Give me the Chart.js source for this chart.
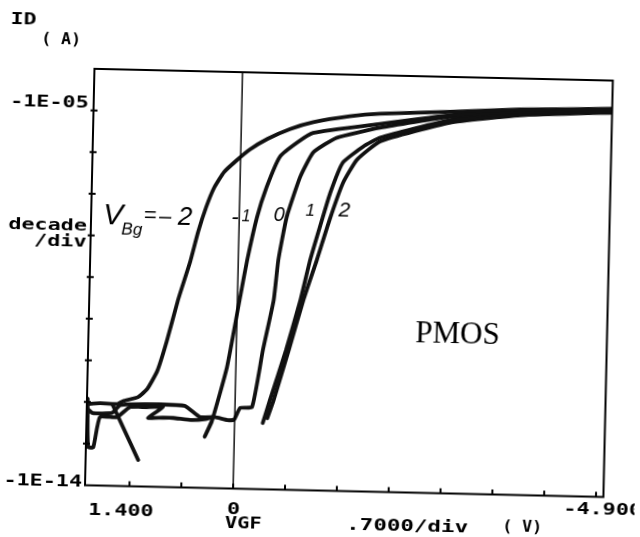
<!DOCTYPE html>
<html><head><meta charset="utf-8">
<script src="https://cdn.jsdelivr.net/npm/chart.js@4/dist/chart.umd.min.js"></script>
<style>
html,body{margin:0;padding:0;background:#fff;}
#wrap{width:640px;height:537px;overflow:hidden;position:relative;background:#fff;}
#c{position:absolute;left:0;top:0;transform:rotate(1.3deg);transform-origin:320px 268px;}
</style></head><body>
<div id="wrap"><canvas id="c" width="640" height="537"></canvas></div>
<script>
// ---- axis ranges and ticks ----
const vgfMin = -5.0, vgfMax = 2.0;
const idMin = 1e-14, idMax = 1e-4;
const xTickValues = [1.4, 0.7, 0, -0.7, -1.4, -2.1, -2.8, -3.5, -4.2, -4.9];
const yTickValues = [1e-13, 1e-12, 1e-11, 1e-10, 1e-9, 1e-8, 1e-7, 1e-6, 1e-5];
const xTickLabels = ['1.400', '0', '-4.900'];
const yTickLabels = ['-1E-05', '-1E-14'];
const vbgLabels = ['-2', '-1', '0', '1', '2'];

// ---- series: VGF (V) and ID (A) for each back-gate bias ----
const vgfM2 = [2.0, 1.82, 1.59, 1.51, 1.31, 1.19, 1.06, 0.94, 0.80, 0.65, 0.55, 0.45, 0.35, 0.22, 0.06, -0.12, -0.36, -0.66, -0.97, -1.46, -1.87, -2.81, -3.76, -5.0];
const idM2  = [8.9e-13, 9.5e-13, 9.3e-13, 1.1e-12, 1.4e-12, 2.2e-12, 6.0e-12, 3.2e-11, 3.2e-10, 2.6e-9, 1.4e-8, 5.5e-8, 1.6e-7, 3.9e-7, 7.4e-7, 1.4e-6, 2.6e-6, 4.6e-6, 6.9e-6, 1.0e-5, 1.2e-5, 1.45e-5, 1.8e-5, 2.1e-5];

const vgfM1 = [1.99, 1.97, 1.90, 1.82, 1.59, 1.42, 1.21, 0.97, 1.17, 0.97, 0.83, 0.58, 0.39, 0.29, 0.40, 0.31, 0.12, -0.03, -0.12, -0.24, -0.36, -0.53, -0.76, -0.97, -1.87, -2.81, -3.76, -5.0];
const idM1  = [1.2e-12, 8.3e-14, 8.3e-14, 4.4e-13, 4.5e-13, 7.9e-13, 8.1e-13, 8.3e-13, 4.5e-13, 4.6e-13, 4.6e-13, 4.2e-13, 4.5e-13, 5.1e-13, 1.7e-13, 3.9e-13, 8.1e-12, 3.4e-10, 3.1e-9, 3.4e-8, 1.8e-7, 9.8e-7, 2.2e-6, 3.8e-6, 6.8e-6, 1.2e-5, 1.6e-5, 2.0e-5];

const vgf0 = [2.0, 1.92, 1.66, 1.55, 1.22, 0.68, 0.47, 0.27, 0.10, 0.01, -0.07, -0.23, -0.36, -0.49, -0.54, -0.64, -0.81, -0.98, -1.29, -1.87, -2.81, -3.76, -5.0];
const id0  = [7.1e-13, 5.5e-13, 5.6e-13, 8.7e-13, 9.5e-13, 9.1e-13, 5.0e-13, 5.1e-13, 4.4e-13, 4.5e-13, 8.7e-13, 9.3e-13, 2.2e-11, 3.5e-10, 3.2e-9, 3.5e-8, 3.3e-7, 1.3e-6, 3.0e-6, 5.5e-6, 1.1e-5, 1.5e-5, 1.9e-5];

const vgfP1 = [1.65, 1.29, null, -0.38, -0.47, -0.67, -0.85, -0.97, -1.09, -1.22, -1.38, -1.65, -1.88, -2.81, -3.76, -5.0];
const idP1  = [8.7e-13, 4.3e-14, null, 3.9e-13, 1.4e-12, 2.2e-11, 3.6e-10, 3.4e-9, 2.1e-8, 1.4e-7, 7.6e-7, 1.9e-6, 3.2e-6, 9.1e-6, 1.4e-5, 1.8e-5];

const vgfP2 = [-0.44, -0.52, -0.71, -0.89, -1.06, -1.22, -1.39, -1.57, -1.88, -2.81, -3.76, -5.0];
const idP2  = [5.1e-13, 1.4e-12, 2.3e-11, 3.6e-10, 3.4e-9, 3.2e-8, 2.5e-7, 9.1e-7, 2.6e-6, 7.9e-6, 1.3e-5, 1.7e-5];

const seriesV = [vgfM2, vgfM1, vgf0, vgfP1, vgfP2];
const seriesI = [idM2, idM1, id0, idP1, idP2];

const datasets = seriesV.map((vs, k) => ({
  label: 'VBG=' + vbgLabels[k],
  data: vs.map((v, j) => ({x: v, y: seriesI[k][j]})),
  showLine: true,
  borderColor: '#111',
  borderWidth: 3.8,
  pointRadius: 0,
  tension: 0.15,
  fill: false,
  borderCapStyle: 'round',
  borderJoinStyle: 'round'
}));

const HP = 'bold 15px "DejaVu Sans Mono"';
function wtext(ctx, s, x, y, align, font, sx) {
  ctx.save();
  ctx.font = font; ctx.textAlign = align; ctx.textBaseline = 'middle';
  ctx.translate(x, y); ctx.scale(sx, 1);
  ctx.fillText(s, 0, 0);
  ctx.restore();
}

const hpPlugin = {
  id: 'hp',
  afterDatasetsDraw(chart) {
    const {ctx, chartArea: a, scales: {x, y}} = chart;
    ctx.save();
    ctx.strokeStyle = '#000'; ctx.fillStyle = '#000';
    ctx.lineWidth = 2;
    ctx.strokeRect(a.left, a.top, a.right - a.left, a.bottom - a.top);
    const x0 = x.getPixelForValue(0);
    ctx.lineWidth = 1.4;
    ctx.beginPath(); ctx.moveTo(x0, a.top); ctx.lineTo(x0, a.bottom); ctx.stroke();
    ctx.lineWidth = 2;
    yTickValues.forEach(v => { const py = y.getPixelForValue(v); ctx.beginPath(); ctx.moveTo(a.left - 3, py); ctx.lineTo(a.left + 4, py); ctx.stroke(); });
    xTickValues.forEach(v => { const px = x.getPixelForValue(v); ctx.beginPath(); ctx.moveTo(px, a.bottom); ctx.lineTo(px, a.bottom - 5); ctx.stroke(); });

    // axis labels (HP plotter style)
    wtext(ctx, 'ID', 18, 27, 'center', 'bold 16px "DejaVu Sans Mono"', 1.35);
    wtext(ctx, '( A)', 56, 46, 'center', HP, 1.1);
    wtext(ctx, yTickLabels[0], a.left - 5, y.getPixelForValue(1e-5) - 7, 'right', HP, 1.45);
    wtext(ctx, 'decade', a.left - 4, y.getPixelForValue(1e-8) - 8, 'right', HP, 1.45);
    wtext(ctx, '/div', a.left - 4, y.getPixelForValue(1e-8) + 8, 'right', HP, 1.45);
    wtext(ctx, yTickLabels[1], a.left - 3, y.getPixelForValue(1e-14) - 2, 'right', HP, 1.45);
    wtext(ctx, xTickLabels[0], x.getPixelForValue(1.4) - 8, a.bottom + 26, 'center', HP, 1.45);
    wtext(ctx, xTickLabels[1], x.getPixelForValue(0) + 1, a.bottom + 22, 'center', HP, 1.45);
    wtext(ctx, xTickLabels[2], x.getPixelForValue(-4.9) + 7, a.bottom + 14, 'center', HP, 1.45);
    wtext(ctx, 'VGF', x.getPixelForValue(0) + 11, a.bottom + 36, 'center', HP, 1.35);
    wtext(ctx, '.7000/div', 413, a.bottom + 35, 'center', HP, 1.5);
    wtext(ctx, '( V)', 528, a.bottom + 33, 'center', HP, 1.1);

    // hand-written annotation
    ctx.textAlign = 'center'; ctx.textBaseline = 'middle';
    const hw = (s, px, py, size) => { ctx.font = 'italic ' + size + 'px "Liberation Sans"'; ctx.fillText(s, px, py); };
    hw('V', 112, 221, 30);
    hw('Bg', 131, 234, 17);
    hw('=', 149, 220, 22);
    hw('\u2013', 164, 221, 22);
    hw('2', 184, 221, 26);
    hw('-', 234, 220, 22);
    hw('1', 245, 219, 16);
    hw('0', 278, 216, 20);
    hw('1', 309, 211, 17);
    hw('2', 343, 210, 21);

    // typed label
    ctx.font = '31px "Liberation Serif"';
    ctx.fillText('PMOS', 459, 332);
    ctx.restore();
  }
};

new Chart(document.getElementById('c'), {
  type: 'scatter',
  data: {datasets},
  options: {
    responsive: false,
    animation: false,
    devicePixelRatio: 1,
    layout: {padding: {left: 90, top: 74, right: 31.5, bottom: 46.5}},
    plugins: {legend: {display: false}, tooltip: {enabled: false}},
    scales: {
      x: {type: 'linear', min: vgfMin, max: vgfMax, reverse: true, display: false},
      y: {type: 'logarithmic', min: idMin, max: idMax, display: false}
    }
  },
  plugins: [hpPlugin]
});
</script>
</body></html>
